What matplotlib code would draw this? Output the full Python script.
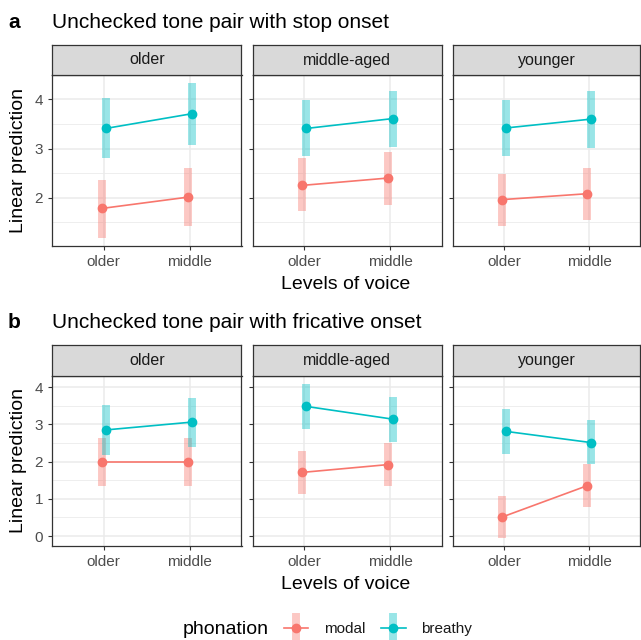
import matplotlib
matplotlib.use("Agg")
import matplotlib.pyplot as plt
from matplotlib.lines import Line2D
from matplotlib.legend_handler import HandlerTuple

plt.rcParams['font.family'] = ['Liberation Sans', 'DejaVu Sans']

# data
ages = ['older', 'middle-aged', 'younger']
voice_levels = ['older', 'middle']
phonations = ['modal', 'breathy']
colors = {'modal': '#F8766D', 'breathy': '#00BFC4'}

# panel a: stop onset
modal_fit_a = [[1.78, 2.01], [2.25, 2.40], [1.96, 2.08]]
modal_lo_a = [[1.18, 1.43], [1.73, 1.86], [1.42, 1.54]]
modal_hi_a = [[2.35, 2.61], [2.80, 2.94], [2.49, 2.61]]
breathy_fit_a = [[3.41, 3.71], [3.41, 3.61], [3.42, 3.60]]
breathy_lo_a = [[2.80, 3.08], [2.84, 3.03], [2.85, 3.02]]
breathy_hi_a = [[4.03, 4.34], [3.98, 4.18], [3.99, 4.17]]

# panel b: fricative onset
modal_fit_b = [[1.99, 1.99], [1.71, 1.92], [0.51, 1.35]]
modal_lo_b = [[1.34, 1.34], [1.13, 1.34], [-0.05, 0.78]]
modal_hi_b = [[2.63, 2.63], [2.28, 2.49], [1.08, 1.93]]
breathy_fit_b = [[2.85, 3.06], [3.48, 3.14], [2.81, 2.51]]
breathy_lo_b = [[2.18, 2.40], [2.87, 2.53], [2.21, 1.93]]
breathy_hi_b = [[3.51, 3.72], [4.09, 3.74], [3.40, 3.11]]

W, H = 641, 640
fig = plt.figure(figsize=(W / 100, H / 100), dpi=100)


def px_rect(x0, y0, x1, y1):
    return [x0 / W, 1 - y1 / H, (x1 - x0) / W, (y1 - y0) / H]


cols = [(52, 241.5), (252.7, 442), (453, 640)]
dodge = {'modal': -0.025, 'breathy': 0.025}


def draw_row(strip_top, panel_top, panel_bot, fits, los, his, yticks, yminor,
             letter, title):
    all_lo = [v for ph in phonations for row in los[ph] for v in row]
    all_hi = [v for ph in phonations for row in his[ph] for v in row]
    lo, hi = min(all_lo), max(all_hi)
    pad = 0.05 * (hi - lo)
    for i, age in enumerate(ages):
        x0, x1 = cols[i]
        ax = fig.add_axes(px_rect(x0, panel_top, x1, panel_bot))
        ax.set_xlim(0.4, 2.6)
        ax.set_ylim(lo - pad, hi + pad)
        for y in yminor:
            ax.axhline(y, color='#EBEBEB', lw=0.6, zorder=0)
        for y in yticks:
            ax.axhline(y, color='#EBEBEB', lw=1.1, zorder=0)
        for x in [1, 2]:
            ax.axvline(x, color='#EBEBEB', lw=1.1, zorder=0)
        for ph in phonations:
            xs = [k + 1 + dodge[ph] for k in range(len(voice_levels))]
            ax.vlines(xs, los[ph][i], his[ph][i], color=colors[ph], lw=5.7,
                      alpha=0.4, zorder=2, capstyle='butt')
            ax.plot(xs, fits[ph][i], color=colors[ph], lw=1.2, marker='o',
                    ms=6, zorder=3)
        ax.set_xticks([1, 2])
        ax.set_xticklabels(voice_levels)
        ax.set_yticks(yticks)
        if i == 0:
            ax.set_yticklabels([str(t) for t in yticks])
        else:
            ax.set_yticklabels([])
            ax.tick_params(axis='y', length=0)
        ax.tick_params(labelsize=11, labelcolor='#4D4D4D', color='#333333',
                       length=3, width=0.8, pad=3.5)
        for s in ax.spines.values():
            s.set_color('#333333')
            s.set_linewidth(0.9)
        # strip
        sax = fig.add_axes(px_rect(x0, strip_top, x1, panel_top))
        sax.set_facecolor('#D9D9D9')
        sax.set_xticks([])
        sax.set_yticks([])
        for s in sax.spines.values():
            s.set_color('#333333')
            s.set_linewidth(0.9)
        sax.text(0.5, 0.5, age, ha='center', va='center', fontsize=11.5,
                 color='#1A1A1A', transform=sax.transAxes)
    ymid = 1 - (panel_top + panel_bot) / 2 / H
    fig.text(18.5 / W, ymid, 'Linear prediction', rotation=90, ha='center',
             va='center', fontsize=14)
    fig.text((cols[0][0] + cols[2][1]) / 2 / W, 1 - (panel_bot + 43) / H,
             'Levels of voice', ha='center', va='baseline', fontsize=14)
    fig.text(8 / W, 1 - (strip_top - 17) / H, letter, fontsize=15,
             fontweight='bold', va='baseline')
    fig.text(52 / W, 1 - (strip_top - 17) / H, title, fontsize=15,
             va='baseline')


draw_row(45, 75, 245.7,
         {'modal': modal_fit_a, 'breathy': breathy_fit_a},
         {'modal': modal_lo_a, 'breathy': breathy_lo_a},
         {'modal': modal_hi_a, 'breathy': breathy_hi_a},
         [2, 3, 4], [1.5, 2.5, 3.5, 4.5], 'a',
         'Unchecked tone pair with stop onset')
draw_row(345, 376, 545.7,
         {'modal': modal_fit_b, 'breathy': breathy_fit_b},
         {'modal': modal_lo_b, 'breathy': breathy_lo_b},
         {'modal': modal_hi_b, 'breathy': breathy_hi_b},
         [0, 1, 2, 3, 4], [0.5, 1.5, 2.5, 3.5], 'b',
         'Unchecked tone pair with fricative onset')

# legend
handles = []
for ph in phonations:
    bar = Line2D([], [], marker='|', ms=22, mew=5.7, color=colors[ph],
                 alpha=0.4, ls='none')
    pt = Line2D([], [], color=colors[ph], lw=1.2, marker='o', ms=6)
    handles.append((bar, pt))
fig.text(183 / W, 1 - 629 / H, 'phonation', fontsize=14, va='center')
fig.legend(handles, phonations, handler_map={tuple: HandlerTuple(ndivide=1)},
           ncol=2, loc='center left', bbox_to_anchor=(284 / W, 1 - 629 / H),
           frameon=False, fontsize=11, handlelength=1.6, handletextpad=1.0,
           columnspacing=1.05, borderpad=0, borderaxespad=0,
           labelcolor='#1A1A1A')

fig.savefig('out.png', dpi=100)
